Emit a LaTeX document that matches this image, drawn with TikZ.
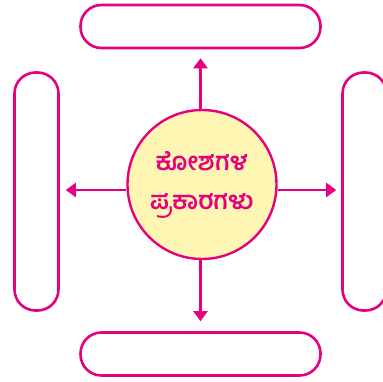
\documentclass[tikz,border=0pt]{standalone}
\usepackage{fontspec}
\newfontfamily\kannada[Script=Kannada]{Hind Mysuru}
\usetikzlibrary{positioning,arrows.meta}
\definecolor{mag}{HTML}{E6007E}
\definecolor{lemon}{HTML}{FFF6B4}

\begin{document}
\begin{tikzpicture}[x=1pt,y=-1pt,
  pill/.style={draw=mag,line width=2.6pt,rounded corners=21pt,inner sep=0pt},
  hub/.style={circle,draw=mag,fill=lemon,line width=2.4pt,minimum size=149pt,inner sep=0pt,align=center,
    font=\kannada\bfseries\fontsize{25}{39}\selectfont,text=mag},
  arr/.style={draw=mag,line width=2.4pt,-{Triangle[length=10pt,width=14pt]}}]
\useasboundingbox (0,0) rectangle (382,382);
\node[pill,minimum width=240pt,minimum height=43pt] (top) at (200.5,26.5) {};
\node[pill,minimum width=240pt,minimum height=43pt] (bot) at (200.5,354) {};
\node[pill,minimum width=44pt,minimum height=238pt] (lft) at (36.5,191.5) {};
\node[pill,minimum width=44pt,minimum height=238pt] (rgt) at (364.5,191.5) {};
\node[hub] (c) at (202,184.5) {ಕೋಶಗಳ\\ಪ್ರಕಾರಗಳು};
\draw[arr,shorten >=9pt] (c.north -| top) -- (top);
\draw[arr,shorten >=10pt] (c.south -| bot) -- (bot);
\draw[arr,shorten >=6pt] (c.west |- 0,190) -- (lft.east |- 0,190);
\draw[arr,shorten >=5pt] (c.east |- 0,190) -- (rgt.west |- 0,190);
\end{tikzpicture}
\end{document}
